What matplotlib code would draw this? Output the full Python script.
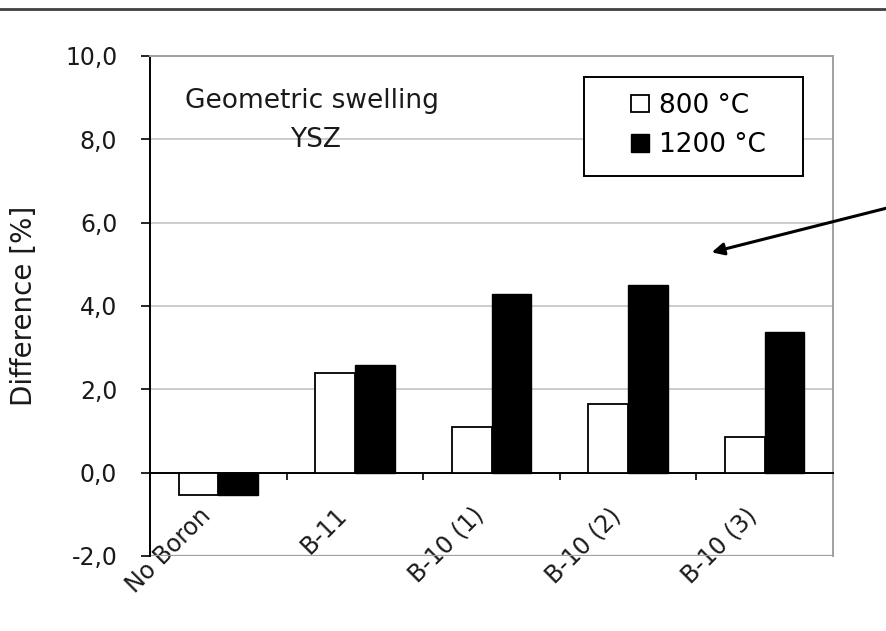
import numpy as np
import matplotlib
matplotlib.use("Agg")
import matplotlib.pyplot as plt
from matplotlib.ticker import FixedLocator, FuncFormatter
from matplotlib.patches import Rectangle
from matplotlib.lines import Line2D
import matplotlib.transforms as mtransforms

plt.rcParams['font.family'] = ['DejaVu Sans']

categories = ['No Boron', 'B-11', 'B-10 (1)', 'B-10 (2)', 'B-10 (3)']
temp_800 = [-0.53, 2.39, 1.10, 1.64, 0.86]
temp_1200 = [-0.53, 2.59, 4.28, 4.51, 3.37]
series_labels = ['800 °C', '1200 °C']
yticks = [-2, 0, 2, 4, 6, 8, 10]

fig = plt.figure(figsize=(8.86, 6.31), dpi=100)
ax = fig.add_axes([0.1693, 0.1189, 0.7709, 0.7924])

x = np.arange(len(categories))
w = 0.29
b1 = ax.bar(x - w/2, temp_800, w, color='white', edgecolor='black', lw=1.3, zorder=3, label=series_labels[0])
b2 = ax.bar(x + w/2, temp_1200, w, color='black', edgecolor='black', lw=1.0, zorder=3, label=series_labels[1])

ax.set_xlim(-0.5, len(categories) - 0.5)
ax.set_ylim(-2, 10)
ax.set_yticks(yticks)
ax.yaxis.set_major_formatter(FuncFormatter(lambda v, p: f"{v:.1f}".replace('.', ',')))
ax.tick_params(axis='y', direction='out', length=6.5, width=1.2, pad=17, labelsize=17, labelcolor='#1a1a1a')
ax.yaxis.grid(True, color='#c4c4c4', lw=1.2)
ax.set_axisbelow(True)

# x axis drawn at zero
ax.spines['bottom'].set_position(('data', 0))
ax.spines['bottom'].set_linewidth(1.4)
ax.spines['left'].set_linewidth(1.4)
for s in ['top', 'right']:
    ax.spines[s].set_color('#a0a0a0')
    ax.spines[s].set_linewidth(1.4)
ax.axhline(-2, color='#a0a0a0', lw=1.6, zorder=2)

ax.xaxis.set_major_locator(FixedLocator(np.arange(-0.5, len(categories), 1.0)))
ax.xaxis.set_major_formatter(FuncFormatter(lambda v, p: ''))
ax.xaxis.set_minor_locator(FixedLocator(x))
ax.set_xticklabels(categories, minor=True)
ax.tick_params(axis='x', which='major', direction='out', length=5, width=1.2)
ax.tick_params(axis='x', which='minor', length=0, pad=22, labelsize=17, labelcolor='#1a1a1a')
shift = mtransforms.ScaledTranslation(-0.2, 0, fig.dpi_scale_trans)
for lab in ax.get_xticklabels(minor=True):
    lab.set_rotation(45)
    lab.set_ha('right')
    lab.set_va('top')
    lab.set_rotation_mode('anchor')
    lab.set_transform(lab.get_transform() + shift)

ax.set_ylabel('Difference [%]', fontsize=20, color='#1a1a1a')
ax.yaxis.set_label_coords(-0.164, 0.5)

ax.text(0.237, 0.896, 'Geometric swelling', transform=ax.transAxes, ha='center', va='baseline', fontsize=19, color='#1a1a1a')
ax.text(0.2416, 0.8186, 'YSZ', transform=ax.transAxes, ha='center', va='baseline', fontsize=19, color='#1a1a1a')

# legend with its own frame
ax.add_patch(Rectangle((0.6354, 0.76), 0.3206, 0.198, transform=ax.transAxes,
                       facecolor='white', edgecolor='black', lw=1.4, zorder=4))
leg = ax.legend(handles=[b1, b2], loc='center', bbox_to_anchor=(0.803, 0.861), frameon=False,
                borderpad=0, fontsize=19, handlelength=0.65, handleheight=0.65,
                handletextpad=0.38, labelspacing=0.5)
leg.set_zorder(5)

# arrow coming from the right edge
ax.annotate('', xy=(709, 378), xytext=(895, 425), xycoords='figure pixels', textcoords='figure pixels',
            arrowprops=dict(arrowstyle='-|>', color='black', lw=2.2, mutation_scale=18), annotation_clip=False)

# rule across the top of the picture
fig.add_artist(Line2D([0, 1], [1 - 8.5/631, 1 - 8.5/631], transform=fig.transFigure, color='#404040', lw=2))

fig.savefig('out.png', dpi=100)
